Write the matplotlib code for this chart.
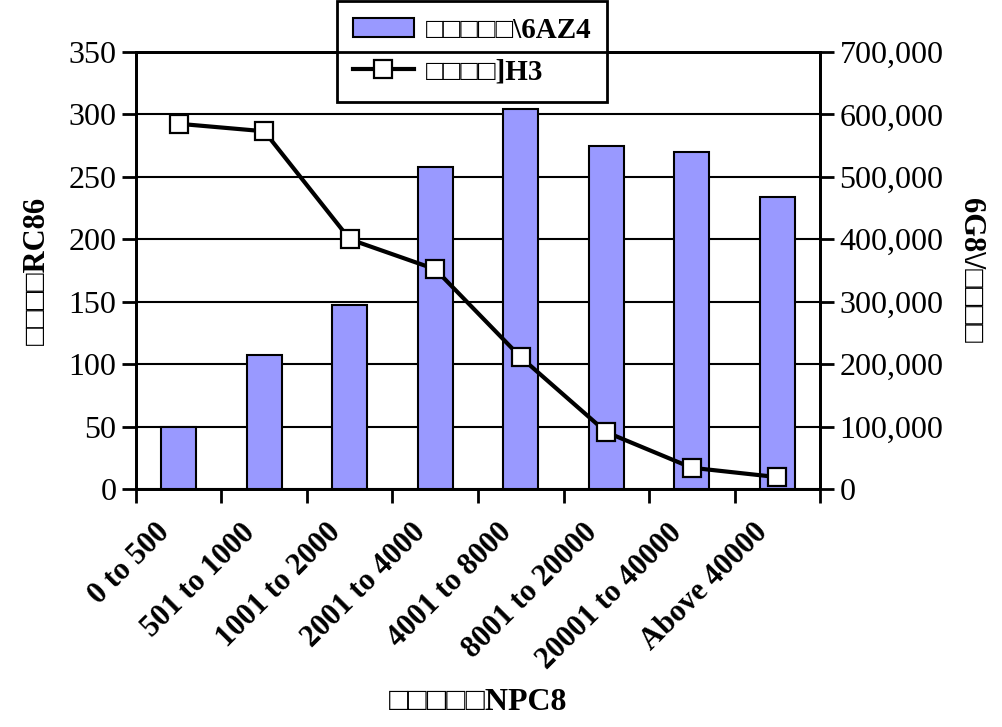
import matplotlib
matplotlib.use("Agg")
import matplotlib.pyplot as plt
import matplotlib.ticker as mticker
import numpy as np

plt.rcParams['font.family'] = ['Liberation Serif', 'DejaVu Serif']

# size classes
categories = ['0 to 500', '501 to 1000', '1001 to 2000', '2001 to 4000',
              '4001 to 8000', '8001 to 20000', '20001 to 40000', 'Above 40000']
bar_values = [50, 107, 147, 258, 304, 275, 270, 234]          # left axis
line_values = [585000, 573000, 400000, 352000, 211000, 91000, 34000, 19000]  # right axis

bar_label = '□□□□□\\6AZ4'
line_label = '□□□□]H3'
xlabel = '□□□□□NPC8'
ylabel_left = '□□□□RC86'
ylabel_right = '6G8\\/□□□□'

fig = plt.figure(figsize=(10.02, 7.27), dpi=100)
ax = fig.add_axes([0.1357, 0.3274, 0.6827, 0.6011])
ax2 = ax.twinx()

x = np.arange(len(categories))

ax.set_axisbelow(True)
ax.yaxis.grid(True, color='black', lw=1.5)
b = ax.bar(x, bar_values, width=0.41, color='#9999FF', edgecolor='black', lw=1.5,
           label=bar_label, zorder=2)
l, = ax2.plot(x, line_values, color='black', lw=3, marker='s', ms=13.5,
              mfc='white', mec='black', mew=1.6, label=line_label, zorder=3)

ax.set_xlim(-0.5, len(categories) - 0.5)
ax.set_ylim(0, 350)
ax.set_yticks(np.arange(0, 351, 50))
ax2.set_ylim(0, 700000)
ax2.set_yticks(np.arange(0, 700001, 100000))
ax2.yaxis.set_major_formatter(mticker.StrMethodFormatter('{x:,.0f}'))

# ticks at category boundaries, labels a bit left of centers
ax.set_xticks(np.arange(-0.5, len(categories), 1.0))
ax.set_xticklabels([])
ax.set_xticks(x - 0.28, minor=True)
ax.set_xticklabels(categories, minor=True, rotation=45, ha='right',
                   rotation_mode='anchor', fontsize=22, fontweight='bold')
ax.tick_params(axis='x', which='major', direction='out', length=10, width=2)
ax.tick_params(axis='x', which='minor', length=0, pad=21)
ax.tick_params(axis='y', direction='out', length=10, width=2, labelsize=23, pad=4)
ax2.tick_params(axis='y', direction='out', length=10, width=2, labelsize=23, pad=4)

for a in (ax, ax2):
    for s in a.spines.values():
        s.set_linewidth(2)
        s.set_color('black')

ax.set_xlabel(xlabel, fontsize=23, fontweight='bold')
ax.xaxis.set_label_coords(0.5, -0.455)
ax.set_ylabel(ylabel_left, fontsize=22, fontweight='bold', labelpad=12)
ax2.set_ylabel(ylabel_right, fontsize=22, fontweight='bold', rotation=270, labelpad=30)

leg = ax.legend([b, l], [bar_label, line_label], loc='upper center',
                bbox_to_anchor=(0.491, 1.117), fontsize=21, frameon=True,
                fancybox=False, edgecolor='black', framealpha=1,
                handlelength=2.1, handleheight=0.65, borderpad=0.55,
                labelspacing=0.5, borderaxespad=0, handletextpad=0.4)
leg.get_frame().set_linewidth(2)
leg.set_zorder(10)
for t in leg.get_texts():
    t.set_fontweight('bold')

fig.savefig('out.png', dpi=100)
